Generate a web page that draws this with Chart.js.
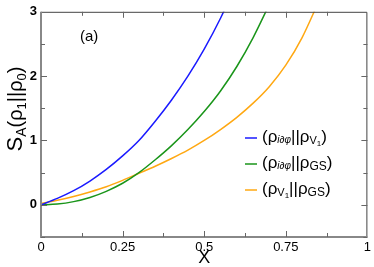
<!DOCTYPE html>
<html>
<head>
<meta charset="utf-8">
<script src="https://cdn.jsdelivr.net/npm/chart.js@4.4.0/dist/chart.umd.min.js"></script>
<style>
  html, body { margin: 0; padding: 0; background: #fff; }
  #wrap { width: 374px; height: 267px; }
</style>
</head>
<body>
<div id="wrap"><canvas id="chart"></canvas></div>
<script>
// values
const X_VALUES = [0, 0.05, 0.1, 0.15, 0.2, 0.25, 0.3, 0.35, 0.4, 0.45, 0.5, 0.55, 0.6, 0.65, 0.7, 0.75, 0.8, 0.85];
const BLUE_VALUES = [0, 0.1, 0.22, 0.37, 0.55, 0.76, 1.0, 1.3, 1.63, 2.0, 2.42, 2.9, 3.45];
const GREEN_VALUES = [0, 0.012, 0.05, 0.115, 0.21, 0.335, 0.5, 0.7, 0.92, 1.17, 1.45, 1.77, 2.15, 2.6, 3.12];
const ORANGE_VALUES = [0.02, 0.07, 0.13, 0.2, 0.28, 0.38, 0.49, 0.6, 0.72, 0.85, 1.0, 1.17, 1.36, 1.58, 1.84, 2.17, 2.6, 3.15];
const X_TICKS = [0, 0.25, 0.5, 0.75, 1];
const X_TICK_LABELS = ["0", "0.25", "0.5", "0.75", "1"];
const Y_TICKS = [0, 1, 2, 3];
const Y_TICK_LABELS = ["0", "1", "2", "3"];

const COLORS = ["#1a1aff", "#1a951a", "#ffa812"];
const FONT = '"Liberation Sans", Arial, sans-serif';

function toPoints(values) {
  return values.map((v, i) => ({ x: X_VALUES[i], y: v }));
}

// text with sub/superscripts: [text, size, dy, style]
function drawRich(ctx, x, y, parts) {
  let cx = x;
  for (const [t, size, dy, style] of parts) {
    ctx.font = `${style || ""} ${size}px ${FONT}`;
    ctx.fillText(t, cx, y + dy);
    cx += ctx.measureText(t).width;
  }
  return cx - x;
}

function richWidth(ctx, parts) {
  let w = 0;
  for (const [t, size, , style] of parts) {
    ctx.font = `${style || ""} ${size}px ${FONT}`;
    w += ctx.measureText(t).width;
  }
  return w;
}

const LEGEND_ROWS = [
  [["(ρ", 17, 0], ["i∂φ", 10, 3, "italic"], ["||ρ", 17, 0], ["V", 11, 4], ["1", 8, 7], [")", 17, 0]],
  [["(ρ", 17, 0], ["i∂φ", 10, 3, "italic"], ["||ρ", 17, 0], ["GS", 12, 4], [")", 17, 0]],
  [["(ρ", 17, 0], ["V", 11, 4], ["1", 8, 7], ["||ρ", 17, 0], ["GS", 12, 4], [")", 17, 0]],
];

const framePlugin = {
  id: "frame",
  afterDraw(chart) {
    const ctx = chart.ctx;
    const a = chart.chartArea;
    const xs = chart.scales.x, ys = chart.scales.y;
    ctx.save();

    // frame
    ctx.strokeStyle = "#444";
    ctx.lineWidth = 1;
    ctx.beginPath();
    ctx.moveTo(a.left, a.top + 0.5); ctx.lineTo(a.right - 0.5, a.top + 0.5); ctx.lineTo(a.right - 0.5, a.bottom);
    ctx.stroke();
    ctx.strokeStyle = "#888";
    ctx.lineWidth = 2;
    ctx.beginPath();
    ctx.moveTo(a.left, a.top); ctx.lineTo(a.left, a.bottom); ctx.lineTo(a.right, a.bottom);
    ctx.stroke();

    // inward ticks on all sides
    ctx.strokeStyle = "#666";
    ctx.lineWidth = 1;
    ctx.beginPath();
    for (let v = 0.125; v < 1; v += 0.125) {
      const px = Math.round(xs.getPixelForValue(v)) + 0.5;
      const len = Math.abs(v * 4 - Math.round(v * 4)) < 1e-6 ? 6 : 4;
      ctx.moveTo(px, a.bottom); ctx.lineTo(px, a.bottom - len);
      ctx.moveTo(px, a.top); ctx.lineTo(px, a.top + len);
    }
    for (let v = -0.5; v < 3; v += 0.5) {
      const py = Math.round(ys.getPixelForValue(v)) + 0.5;
      const len = Number.isInteger(v) ? 6 : 4;
      ctx.moveTo(a.left, py); ctx.lineTo(a.left + len, py);
      ctx.moveTo(a.right, py); ctx.lineTo(a.right - len, py);
    }
    ctx.stroke();

    ctx.fillStyle = "#000";
    ctx.textBaseline = "middle";
    ctx.textAlign = "left";

    // panel label
    ctx.font = `15px ${FONT}`;
    ctx.fillText("(a)", 80, 37);

    // legend
    LEGEND_ROWS.forEach((parts, i) => {
      const y = 137 + i * 26;
      ctx.strokeStyle = COLORS[i];
      ctx.lineWidth = 1.5;
      ctx.beginPath();
      ctx.moveTo(245, y + 1); ctx.lineTo(257, y + 1);
      ctx.stroke();
      drawRich(ctx, 262, y, parts);
    });

    // x title
    ctx.textAlign = "center";
    ctx.font = `18px ${FONT}`;
    ctx.fillText("X", (a.left + a.right) / 2, 258);

    // y title
    const yParts = [["S", 22, 0], ["A", 14, 6], ["(ρ", 20, 0], ["1", 13, 6], ["||ρ", 20, 0], ["0", 13, 6], [")", 20, 0]];
    ctx.textAlign = "left";
    ctx.translate(16, 109);
    ctx.rotate(-Math.PI / 2);
    const w = richWidth(ctx, yParts);
    drawRich(ctx, -w / 2, 0, yParts);

    ctx.restore();
  },
};

new Chart(document.getElementById("chart"), {
  type: "line",
  data: {
    datasets: [
      { data: toPoints(BLUE_VALUES), borderColor: COLORS[0] },
      { data: toPoints(GREEN_VALUES), borderColor: COLORS[1] },
      { data: toPoints(ORANGE_VALUES), borderColor: COLORS[2] },
    ],
  },
  options: {
    responsive: true,
    maintainAspectRatio: false,
    animation: false,
    layout: { padding: { top: 4, right: 3, left: 0, bottom: 0 } },
    elements: {
      point: { radius: 0 },
      line: { borderWidth: 1.5, cubicInterpolationMode: "monotone", fill: false },
    },
    plugins: { legend: { display: false }, tooltip: { enabled: false } },
    scales: {
      x: {
        type: "linear",
        min: 0,
        max: 1,
        grid: { display: false, drawTicks: false },
        border: { display: false },
        afterFit: (s) => { s.height = 30; },
        afterBuildTicks: (s) => { s.ticks = X_TICKS.map((v) => ({ value: v })); },
        ticks: {
          padding: 3,
          autoSkip: false,
          color: "#000",
          maxRotation: 0,
          font: { family: FONT, size: 13 },
          callback: (v) => X_TICK_LABELS[X_TICKS.indexOf(v)],
        },
      },
      y: {
        type: "linear",
        min: -0.5,
        max: 3,
        grid: { display: false, drawTicks: false },
        border: { display: false },
        afterFit: (s) => { s.width = 41; },
        afterBuildTicks: (s) => { s.ticks = Y_TICKS.map((v) => ({ value: v })); },
        ticks: {
          padding: 4,
          autoSkip: false,
          color: "#000",
          font: { family: FONT, size: 13, weight: "bold" },
          callback: (v) => Y_TICK_LABELS[Y_TICKS.indexOf(v)],
        },
      },
    },
  },
  plugins: [framePlugin],
});
</script>
</body>
</html>
